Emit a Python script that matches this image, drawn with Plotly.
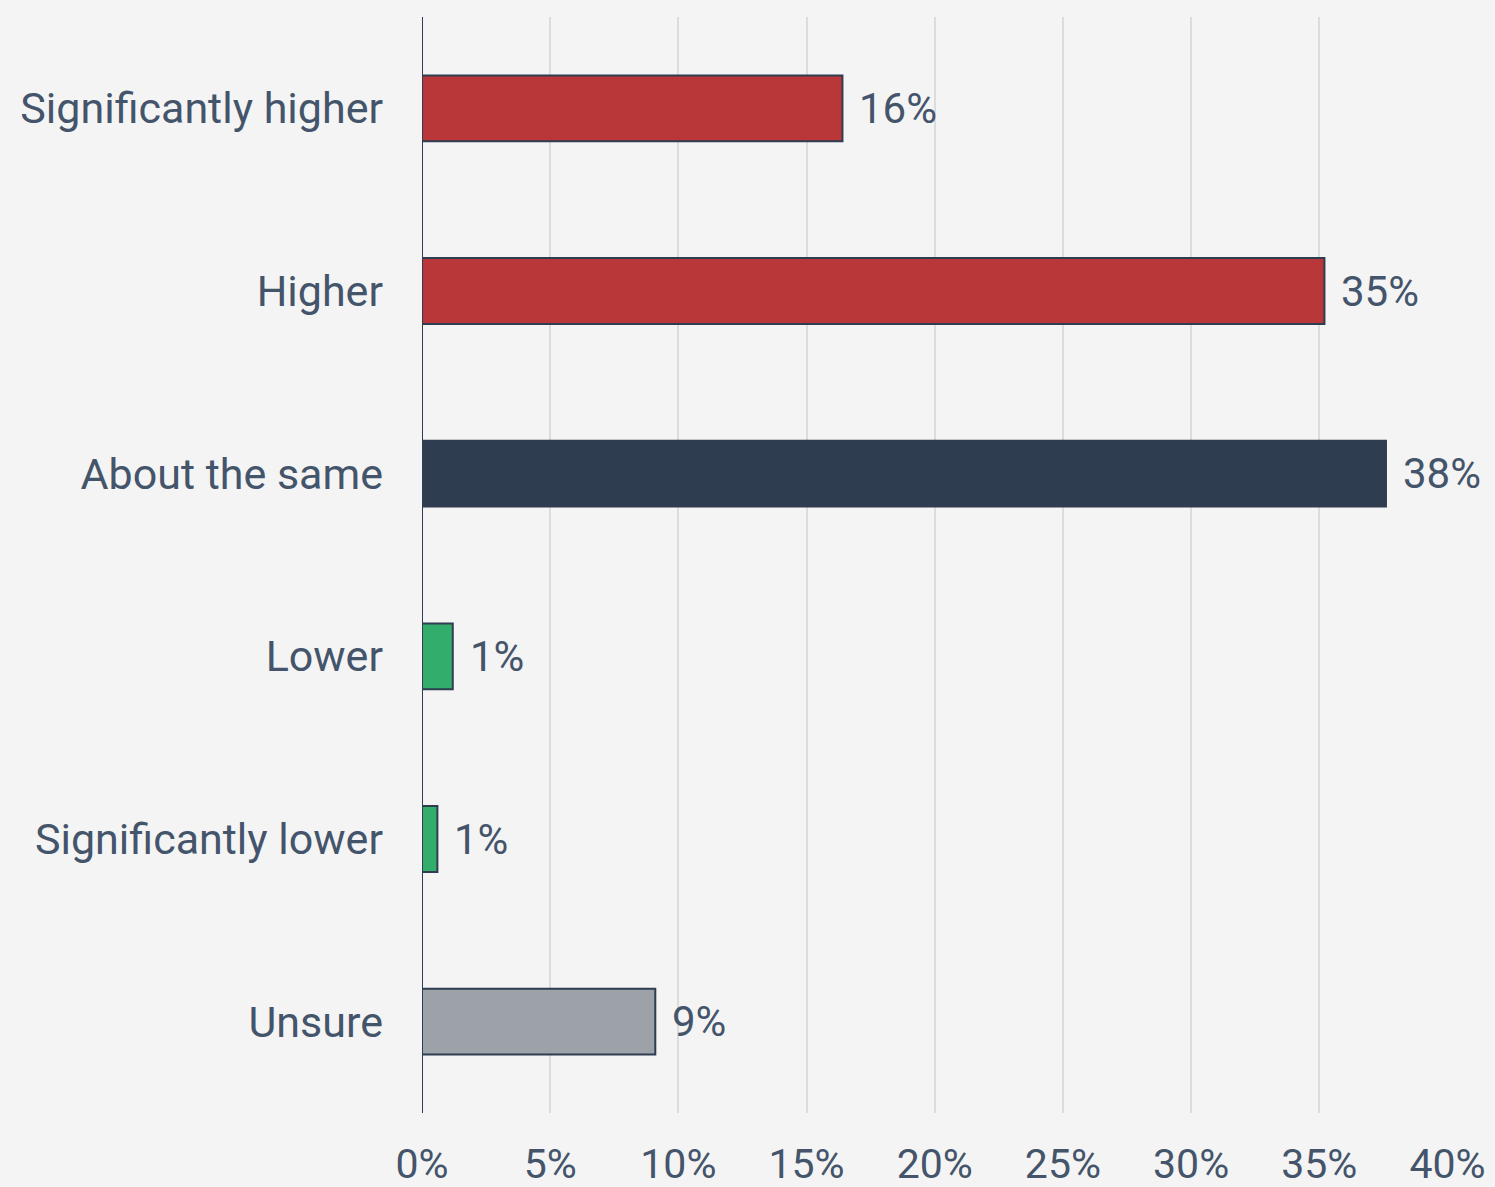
import plotly.graph_objects as go

categories = ["Significantly higher", "Higher", "About the same", "Lower", "Significantly lower", "Unsure"]
values = [16.4, 35.2, 37.6, 1.2, 0.6, 9.1]
labels = ["16%", "35%", "38%", "1%", "1%", "9%"]
colors = ["#b93639", "#b93639", "#2e3d50", "#33ad6c", "#33ad6c", "#9da1a8"]
tick_vals = [0, 5, 10, 15, 20, 25, 30, 35, 40]
tick_text = ["0%", "5%", "10%", "15%", "20%", "25%", "30%", "35%", "40%"]

text_color = "#44546b"
font_family = "Roboto"
bg = "#f4f4f4"

fig = go.Figure()
fig.add_trace(go.Bar(
    y=categories,
    x=values,
    orientation="h",
    marker=dict(color=colors, line=dict(color="#2e3d50", width=2)),
    width=0.36,
    hoverinfo="skip",
))

for c, v, t in zip(categories, values, labels):
    fig.add_annotation(
        x=v, y=c, text=t, showarrow=False, xanchor="left", yanchor="middle",
        xshift=15, font=dict(family=font_family, size=42, color=text_color),
    )

fig.update_layout(
    width=1495, height=1187,
    paper_bgcolor=bg, plot_bgcolor=bg,
    margin=dict(l=422, r=47, t=17, b=74),
    showlegend=False,
    font=dict(family=font_family, color=text_color, size=42),
)
fig.update_xaxes(
    range=[0, 40.02], tickvals=tick_vals, ticktext=tick_text,
    showgrid=True, gridcolor="#dcdcdc", gridwidth=2,
    zeroline=False, showline=False, automargin=False,
    tickfont=dict(family=font_family, size=41, color=text_color),
    ticks="", ticklabelstandoff=23, fixedrange=True,
)
fig.update_yaxes(
    categoryorder="array", categoryarray=categories, autorange="reversed",
    showgrid=False, zeroline=False, automargin=False,
    tickfont=dict(family=font_family, size=43, color=text_color),
    ticks="", ticklabelstandoff=38,
)
fig.add_shape(type="line", xref="x", yref="paper", x0=0, x1=0, y0=0, y1=1,
              line=dict(color="#2e3d50", width=2), layer="above")

fig.write_html(
    "out.html",
    config={"displayModeBar": False},
    post_script="document.body.style.margin='0';document.body.style.background='#f4f4f4';document.body.style.overflow='hidden';",
)
